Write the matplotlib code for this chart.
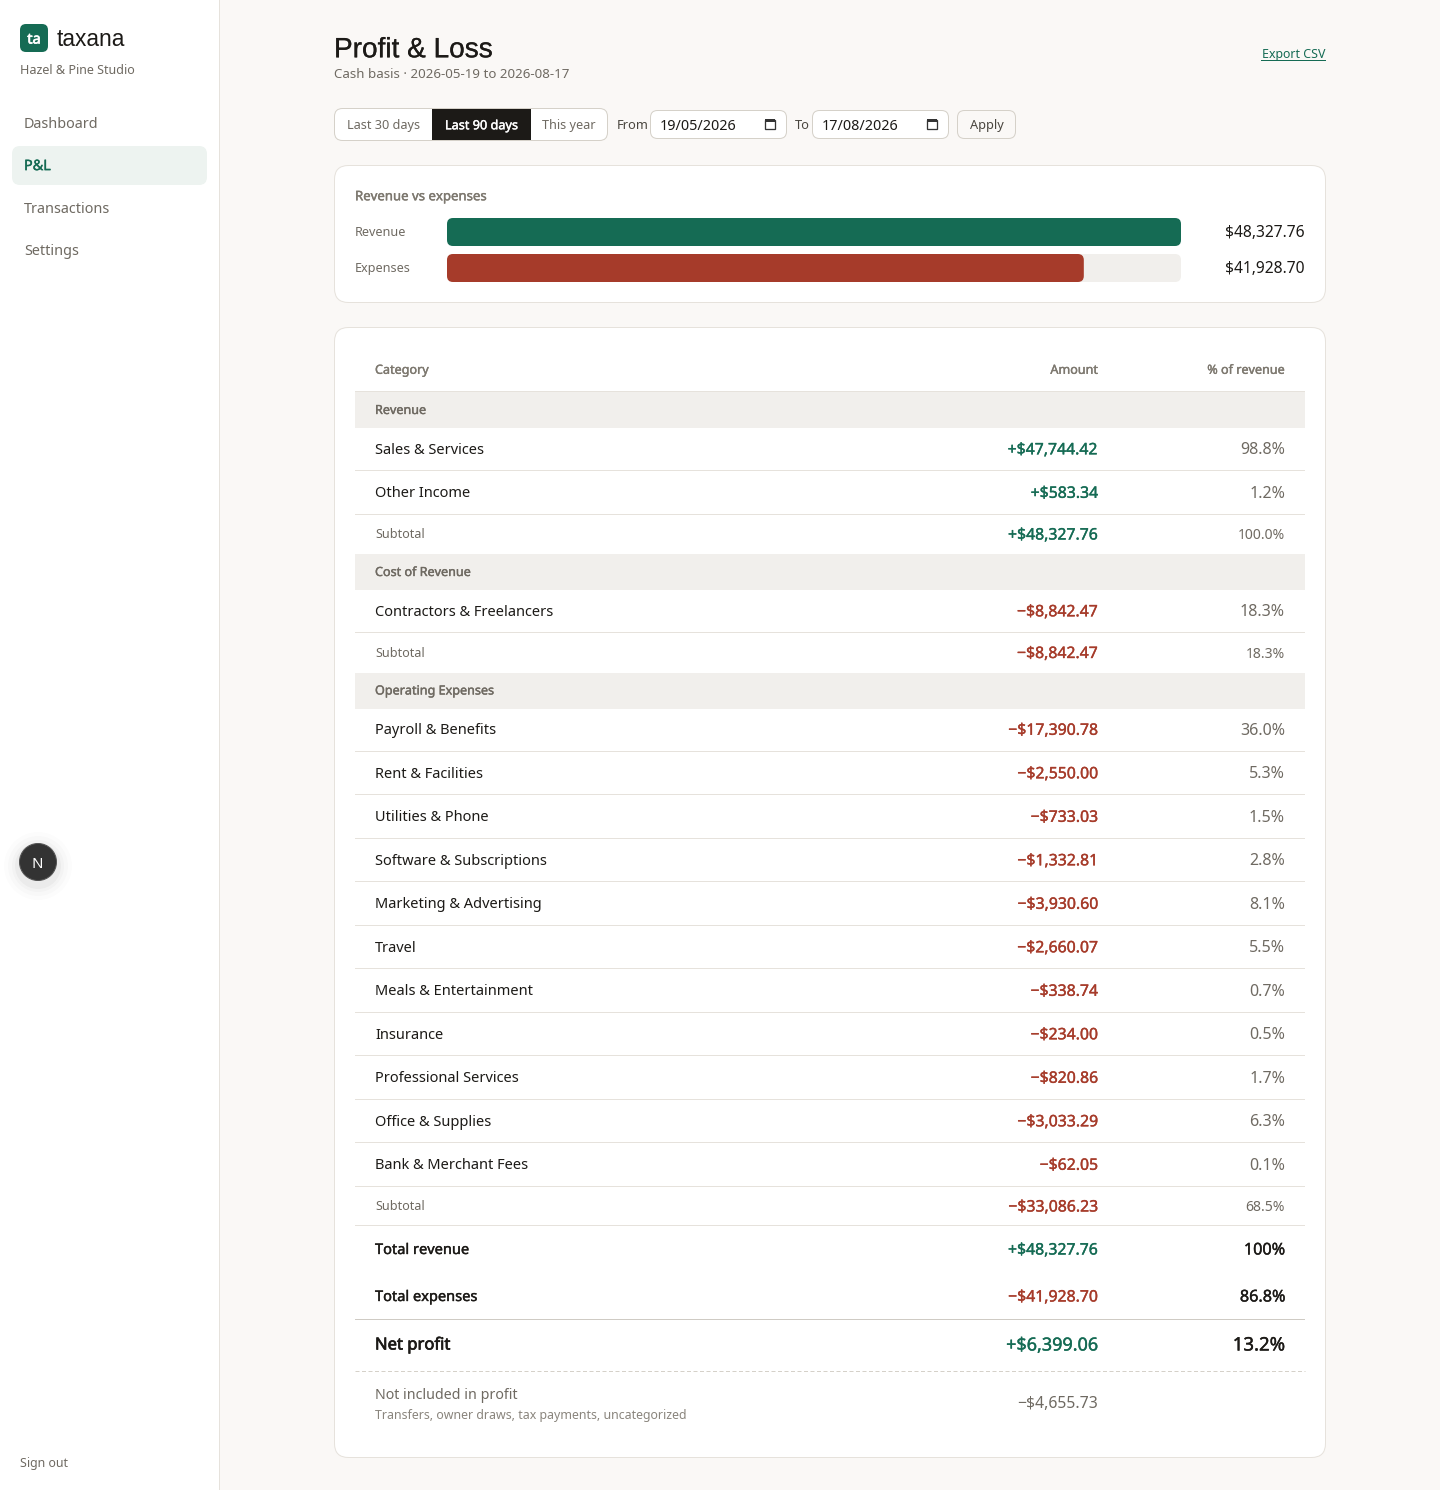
import matplotlib
matplotlib.use('Agg')
import matplotlib.pyplot as plt
import matplotlib.patheffects as pe
from matplotlib.patches import FancyBboxPatch, Rectangle, Circle
from matplotlib.transforms import IdentityTransform

# chart values
bar_labels = ['Revenue', 'Expenses']
bar_values = [48327.76, 41928.70]

nav_items = ['Dashboard', 'P&L', 'Transactions', 'Settings']
range_tabs = ['Last 30 days', 'Last 90 days', 'This year']

revenue_names = ['Sales & Services', 'Other Income']
revenue_amounts = [47744.42, 583.34]
revenue_pcts = [98.8, 1.2]
revenue_total = (48327.76, 100.0)

cost_names = ['Contractors & Freelancers']
cost_amounts = [-8842.47]
cost_pcts = [18.3]
cost_total = (-8842.47, 18.3)

opex_names = ['Payroll & Benefits', 'Rent & Facilities', 'Utilities & Phone', 'Software & Subscriptions',
              'Marketing & Advertising', 'Travel', 'Meals & Entertainment', 'Insurance',
              'Professional Services', 'Office & Supplies', 'Bank & Merchant Fees']
opex_amounts = [-17390.78, -2550.00, -733.03, -1332.81, -3930.60, -2660.07, -338.74, -234.00, -820.86, -3033.29, -62.05]
opex_pcts = [36.0, 5.3, 1.5, 2.8, 8.1, 5.5, 0.7, 0.5, 1.7, 6.3, 0.1]
opex_total = (-33086.23, 68.5)

total_revenue = 48327.76
total_expenses = -41928.70
net_profit = 6399.06
excluded = -4655.73

BG = '#faf8f6'
BORDER = '#e6e2dc'
GREEN = '#156b54'
RED = '#a63b2a'
BAND = '#f1efec'
INK = '#1c1a17'
MUTED = '#6f6a62'
HEAD = '#7d786f'
FONT = 'Noto Sans'
LW = 0.72  # one pixel

plt.rcParams['font.family'] = [FONT, 'DejaVu Sans']

fig = plt.figure(figsize=(14.4, 14.9), dpi=100, facecolor=BG)
ax = fig.add_axes([0, 0, 1, 1])
ax.set_xlim(0, 1440)
ax.set_ylim(1490, 0)
ax.axis('off')

# the installed Noto Sans has one weight, so heavier text gets a thin outline
STROKE = {'normal': 0, 'medium': 0.15, 'semibold': 0.28, 'bold': 0.5}


def label(x, y, s, size=14, color=INK, weight='normal', ha='left', family=None):
    # size is in css pixels
    kw = {'family': family} if family else {}
    t = ax.text(x, y, s, fontsize=size * 0.72, color=color, ha=ha, va='center_baseline', **kw)
    if STROKE[weight]:
        t.set_path_effects([pe.withStroke(linewidth=STROKE[weight], foreground=color)])
    return t


def box(x0, y0, x1, y1, r, fc, ec='none', lw=LW, z=1):
    p = FancyBboxPatch((x0 + r, y0 + r), x1 - x0 - 2 * r, y1 - y0 - 2 * r,
                       boxstyle='round,pad=%f,rounding_size=%f' % (r, r),
                       fc=fc, ec=ec, lw=lw, zorder=z, mutation_aspect=1)
    ax.add_patch(p)
    return p


def money(v):
    sign = '+' if v > 0 else '\u2212'
    return '%s$%s' % (sign, format(abs(v), ',.2f'))


# sidebar
ax.add_patch(Rectangle((0, 0), 219, 1490, fc='white', ec='none', zorder=0))
ax.add_patch(Rectangle((219, 0), 1, 1490, fc=BORDER, ec='none', zorder=0))
box(20, 24, 48, 52, 6, GREEN)
label(34, 38, 'ta', 14.5, 'white', 'bold', ha='center')
label(56.5, 37.2, 'taxana', 22.7, INK, family='Liberation Sans')
label(20, 69.3, 'Hazel & Pine Studio', 12.5, MUTED)
box(12, 146, 207, 185, 8, '#edf3f0')
for name, y in zip(nav_items, [123, 164.6, 207.3, 249.5]):
    active = name == 'P&L'
    label(24, y, name, 14.4, GREEN if active else MUTED, 'semibold' if active else 'normal')
label(20, 1462.3, 'Sign out', 12.4, MUTED)

# next.js badge
for r, a in zip([34, 30, 26, 23], [0.012, 0.015, 0.02, 0.03]):
    ax.add_patch(Circle((38, 866), r, fc='black', ec='none', alpha=a, zorder=1))
ax.add_patch(Circle((38, 862), 18.5, fc='#333333', ec='#555555', lw=LW, zorder=2))
label(37.5, 862.5, 'N', 15, 'white', ha='center').set_zorder(3)

# header
label(334, 47.3, 'Profit & Loss', 28, INK, 'medium', family='Liberation Sans')
label(334, 73.3, 'Cash basis \u00b7 2026-05-19 to 2026-08-17', 13.3, MUTED)
label(1325.7, 53.2, 'Export CSV', 12.4, GREEN, ha='right')
ax.add_patch(Rectangle((1261, 60), 65, 1, fc=GREEN, ec='none'))

# range tabs
box(334.5, 108.5, 607.5, 140.5, 8, 'white', '#d5d1c9')
ax.add_patch(Rectangle((432, 109), 99, 31, fc=INK, ec='none', zorder=2))
for name, x, c, w in zip(range_tabs, [383.5, 481.5, 569], [MUTED, 'white', MUTED], ['normal', 'semibold', 'normal']):
    label(x, 124.3, name, 12.7, c, w, ha='center').set_zorder(3)
label(616.5, 124.3, 'From', 12.8, '#4a463f')
label(795, 124.3, 'To', 12.8, '#4a463f')
for x0, x1, s in [(650.5, 786.5, '19/05/2026'), (812.5, 948.5, '17/08/2026')]:
    box(x0, 110.5, x1, 138.5, 7, 'white', '#d5d1c9')
    label(x0 + 9, 124.3, s, 14.4, INK)
    ax.add_patch(Rectangle((x1 - 22, 120), 10, 9, fc='white', ec='#333333', lw=LW * 1.3, zorder=3))
    ax.add_patch(Rectangle((x1 - 22, 119), 10, 3, fc='#333333', ec='none', zorder=3))
box(957.5, 110.5, 1015.5, 138.5, 7, BG, '#d5d1c9')
label(986.5, 124.3, 'Apply', 12.8, '#4a463f', ha='center')

# revenue vs expenses card
box(334.5, 165.5, 1325.5, 302.5, 14, 'white', BORDER)
label(355, 195.3, 'Revenue vs expenses', 13.2, HEAD, 'semibold')

bar_ax = fig.add_axes([447 / 1440, 1 - 282 / 1490, 734 / 1440, 64 / 1490])
bar_ax.set_xlim(0, bar_values[0])
bar_ax.set_ylim(64, 0)
bar_ax.axis('off')
track = bar_ax.barh([50], [bar_values[0]], height=28, color=BAND)[0]
bars = bar_ax.barh([14, 50], bar_values, height=28, color=[GREEN, RED])
fig.canvas.draw()
for b in [track] + list(bars):
    e = b.get_window_extent()
    clip = FancyBboxPatch((e.x0 + 6, e.y0 + 6), e.width - 12, e.height - 12,
                          boxstyle='round,pad=6,rounding_size=6', transform=IdentityTransform(), fc='none', ec='none')
    b.set_clip_path(clip)
for name, v, y in zip(bar_labels, bar_values, [231, 267]):
    label(355, y, name, 12.6, MUTED)
    label(1305, y, '$' + format(v, ',.2f'), 15.6, INK, ha='right')

# table card
box(334.5, 327.5, 1325.5, 1457.5, 14, 'white', BORDER)
AMT_X = 1098
PCT_X = 1285
label(375, 368.8, 'Category', 12.6, HEAD, 'semibold')
label(AMT_X, 368.8, 'Amount', 12.6, HEAD, 'semibold', ha='right')
label(PCT_X, 368.8, '% of revenue', 12.6, HEAD, 'semibold', ha='right')


def rule(y, color=BORDER):
    ax.add_patch(Rectangle((355, int(y)), 950, 1, fc=color, ec='none', zorder=1.5))


rule(391)


def section(y, title, names, amounts, pcts, total):
    ax.add_patch(Rectangle((355, y), 950, 36, fc=BAND, ec='none'))
    label(375, y + 17, title, 12.6, MUTED, 'semibold')
    y += 36
    for n, a, p in zip(names, amounts, pcts):
        c = GREEN if a > 0 else RED
        label(375, y + 20.3, n, 14.6, INK)
        label(AMT_X, y + 20.3, money(a), 15.8, c, 'semibold', ha='right')
        label(PCT_X, y + 20.3, '%.1f%%' % p, 16, MUTED, ha='right')
        y += 43.5
        rule(y - 1)
    c = GREEN if total[0] > 0 else RED
    label(375, y + 18.5, 'Subtotal', 12.6, MUTED)
    label(AMT_X, y + 18.5, money(total[0]), 15.8, c, 'semibold', ha='right')
    label(PCT_X, y + 18.5, '%.1f%%' % total[1], 14, MUTED, ha='right')
    return y + 39


y = section(392, 'Revenue', revenue_names, revenue_amounts, revenue_pcts, revenue_total)
y = section(y, 'Cost of Revenue', cost_names, cost_amounts, cost_pcts, cost_total)
y = section(y, 'Operating Expenses', opex_names, opex_amounts, opex_pcts, opex_total)
rule(y - 1)

# totals
label(375, 1248.5, 'Total revenue', 14.6, INK, 'semibold')
label(AMT_X, 1248.5, money(total_revenue), 15.8, GREEN, 'semibold', ha='right')
label(PCT_X, 1248.5, '100%', 16.2, INK, 'semibold', ha='right')
label(375, 1295.5, 'Total expenses', 14.6, INK, 'semibold')
label(AMT_X, 1295.5, money(total_expenses), 15.8, RED, 'semibold', ha='right')
label(PCT_X, 1295.5, '86.8%', 16.2, INK, 'semibold', ha='right')
rule(1319, '#cfcbc4')
label(375, 1343.5, 'Net profit', 16.6, INK, 'bold')
label(AMT_X, 1343.5, money(net_profit), 18, GREEN, 'semibold', ha='right')
label(PCT_X, 1343.5, '13.2%', 18.6, INK, 'semibold', ha='right')
ax.plot([355, 1305], [1370.5, 1370.5], color='#d5d1c9', lw=LW, linestyle=(0, (4, 2.5)))
label(375, 1393.3, 'Not included in profit', 14.2, MUTED)
label(375, 1414.3, 'Transfers, owner draws, tax payments, uncategorized', 12.4, '#8a857d')
label(AMT_X, 1402.5, money(excluded), 15.8, MUTED, ha='right')

fig.savefig('out.png', dpi=100, facecolor=BG)
